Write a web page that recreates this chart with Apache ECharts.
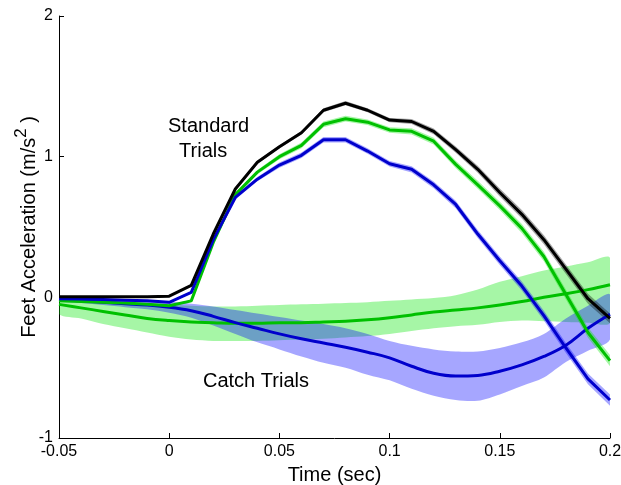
<!DOCTYPE html>
<html>
<head>
<meta charset="utf-8">
<script src="https://cdn.jsdelivr.net/npm/echarts@6/dist/echarts.min.js"></script>
<style>
  html, body { margin: 0; padding: 0; background: #fff; }
  #chart { width: 621px; height: 485px; }
</style>
</head>
<body>
<div id="chart"></div>
<script>
// time axis (sec), one point every 10 ms
const time = [-0.05, -0.04, -0.03, -0.02, -0.01, 0, 0.01, 0.02, 0.03, 0.04, 0.05, 0.06, 0.07,
              0.08, 0.09, 0.1, 0.11, 0.12, 0.13, 0.14, 0.15, 0.16, 0.17, 0.18, 0.19, 0.2];

// standard trials (mean and half width of the shaded band)
const stdBlack = [0.005, 0.005, 0.005, 0.005, 0.005, 0.008, 0.085, 0.45, 0.77, 0.96, 1.07, 1.17, 1.33,
                  1.38, 1.33, 1.26, 1.25, 1.18, 1.05, 0.91, 0.745, 0.59, 0.41, 0.20, -0.01, -0.15];
const stdGreen = [-0.025, -0.03, -0.035, -0.04, -0.05, -0.06, -0.025, 0.39, 0.73, 0.89, 1.0, 1.08, 1.23,
                  1.27, 1.245, 1.19, 1.18, 1.11, 0.945, 0.80, 0.65, 0.49, 0.29, 0.02, -0.25, -0.45];
const stdBlue  = [-0.01, -0.012, -0.015, -0.02, -0.025, -0.035, 0.035, 0.41, 0.71, 0.84, 0.94, 1.01, 1.12,
                  1.12, 1.04, 0.95, 0.91, 0.80, 0.66, 0.45, 0.26, 0.08, -0.13, -0.36, -0.58, -0.73];
const blackSd = [0.005, 0.005, 0.005, 0.005, 0.005, 0.005, 0.008, 0.01, 0.012, 0.012, 0.012, 0.012, 0.015,
                 0.015, 0.015, 0.015, 0.018, 0.02, 0.022, 0.025, 0.028, 0.03, 0.032, 0.034, 0.035, 0.035];
const greenSd = [0.005, 0.005, 0.005, 0.005, 0.005, 0.006, 0.008, 0.012, 0.015, 0.015, 0.018, 0.02, 0.02,
                 0.02, 0.02, 0.02, 0.022, 0.024, 0.026, 0.028, 0.03, 0.032, 0.034, 0.036, 0.038, 0.04];
const blueSd  = [0.005, 0.005, 0.005, 0.005, 0.005, 0.006, 0.008, 0.012, 0.015, 0.015, 0.018, 0.02, 0.02,
                 0.02, 0.02, 0.02, 0.022, 0.024, 0.026, 0.028, 0.03, 0.032, 0.034, 0.036, 0.038, 0.04];

// catch trials (mean, lower and upper edge of band)
const catchGreen   = [-0.05, -0.075, -0.10, -0.125, -0.15, -0.165, -0.175, -0.18, -0.185, -0.185, -0.18, -0.18, -0.175,
                      -0.17, -0.16, -0.145, -0.125, -0.105, -0.09, -0.075, -0.055, -0.03, 0.0, 0.025, 0.055, 0.09];
const catchGreenLo = [-0.12, -0.15, -0.19, -0.22, -0.25, -0.28, -0.30, -0.31, -0.31, -0.31, -0.305, -0.30, -0.295,
                      -0.285, -0.275, -0.26, -0.24, -0.22, -0.205, -0.195, -0.175, -0.165, -0.17, -0.175, -0.18, -0.18];
const catchGreenHi = [-0.015, -0.025, -0.035, -0.045, -0.05, -0.055, -0.06, -0.065, -0.065, -0.06, -0.055, -0.05, -0.045,
                      -0.04, -0.035, -0.025, -0.015, -0.005, 0.015, 0.055, 0.11, 0.15, 0.19, 0.22, 0.25, 0.28];
const catchBlue    = [-0.015, -0.025, -0.035, -0.045, -0.055, -0.07, -0.095, -0.135, -0.18, -0.22, -0.26, -0.295, -0.325,
                      -0.355, -0.39, -0.43, -0.49, -0.54, -0.56, -0.555, -0.525, -0.48, -0.42, -0.34, -0.22, -0.12];
const catchBlueLo  = [-0.03, -0.04, -0.055, -0.07, -0.085, -0.11, -0.145, -0.2, -0.26, -0.32, -0.37, -0.42, -0.465,
                      -0.5, -0.55, -0.59, -0.65, -0.70, -0.73, -0.735, -0.69, -0.63, -0.57, -0.46, -0.38, -0.30];
const catchBlueHi  = [-0.005, -0.01, -0.015, -0.02, -0.025, -0.03, -0.045, -0.065, -0.09, -0.115, -0.14, -0.165, -0.19,
                      -0.22, -0.26, -0.31, -0.345, -0.37, -0.385, -0.385, -0.36, -0.32, -0.26, -0.15, -0.06, 0.02];

const FONT = '"Liberation Sans", Arial, sans-serif';

function pairs(vals) {
    return time.map((t, i) => [t, vals[i]]);
}

// shaded band between lo and hi, one polygon through the axis scales
function band(lo, hi, color, smooth) {
    return {
        type: 'custom', silent: true, clip: true, data: [[time[0], lo[0]]],
        renderItem: (params, api) => {
            const top = time.map((t, i) => api.coord([t, hi[i]]));
            const bottom = time.map((t, i) => api.coord([t, lo[i]])).reverse();
            return {
                type: 'polygon',
                shape: { points: top.concat(bottom), smooth: smooth },
                style: { fill: color, stroke: null }
            };
        }
    };
}

function spread(mean, sd, sign) {
    return mean.map((v, i) => v + sign * sd[i]);
}

function line(vals, color, smooth) {
    return {
        type: 'line', data: pairs(vals), symbol: 'none', smooth: smooth, silent: true,
        lineStyle: { color: color, width: 3 }
    };
}

const chart = echarts.init(document.getElementById('chart'));
chart.setOption({
    animation: false,
    grid: { left: 59, right: 11, top: 16, bottom: 47, outerBoundsMode: 'none' },
    xAxis: {
        type: 'value', min: -0.05, max: 0.2, interval: 0.05,
        name: 'Time (sec)', nameLocation: 'middle', nameGap: 27,
        nameTextStyle: { fontFamily: FONT, fontSize: 20, color: '#000' },
        axisLine: { onZero: false, lineStyle: { color: '#000' } },
        axisTick: { inside: true, length: 5, lineStyle: { color: '#000' } },
        axisLabel: {
            fontFamily: FONT, fontSize: 16, color: '#000', margin: 6,
            formatter: v => String(+v.toFixed(2))
        },
        splitLine: { show: false }
    },
    yAxis: {
        type: 'value', min: -1, max: 2, interval: 1,
        name: 'Feet Acceleration (m/s{sup|2} )', nameLocation: 'middle', nameGap: 13,
        nameMoveOverlap: false,
        nameTextStyle: {
            fontFamily: FONT, fontSize: 20, color: '#000',
            rich: { sup: { fontFamily: FONT, fontSize: 17, color: '#000', padding: [0, 0, 16, 0] } }
        },
        axisLine: { onZero: false, lineStyle: { color: '#000' } },
        axisTick: { inside: true, length: 5, lineStyle: { color: '#000' } },
        axisLabel: { fontFamily: FONT, fontSize: 16, color: '#000', margin: 6 },
        splitLine: { show: false }
    },
    graphic: [{
        type: 'text', left: 168, top: 114,
        style: { text: 'Standard\n  Trials', font: '20px ' + FONT, fill: '#000', lineHeight: 25 }
    }, {
        type: 'text', left: 203, top: 371,
        style: { text: 'Catch Trials', font: '20px ' + FONT, fill: '#000' }
    }],
    series: [
        band(catchGreenLo, catchGreenHi, 'rgba(0,230,0,0.35)', 0.3),
        band(catchBlueLo, catchBlueHi, 'rgba(0,0,255,0.35)', 0.3),
        band(spread(stdBlack, blackSd, -1), spread(stdBlack, blackSd, 1), 'rgba(0,0,0,0.35)', 0),
        band(spread(stdGreen, greenSd, -1), spread(stdGreen, greenSd, 1), 'rgba(0,230,0,0.35)', 0),
        band(spread(stdBlue, blueSd, -1), spread(stdBlue, blueSd, 1), 'rgba(0,0,255,0.35)', 0),
        line(catchGreen, '#00c000', 0.4),
        line(catchBlue, '#0000cc', 0.4),
        line(stdGreen, '#00c000', false),
        line(stdBlue, '#0000cc', false),
        line(stdBlack, '#000000', false)
    ]
});
</script>
</body>
</html>
